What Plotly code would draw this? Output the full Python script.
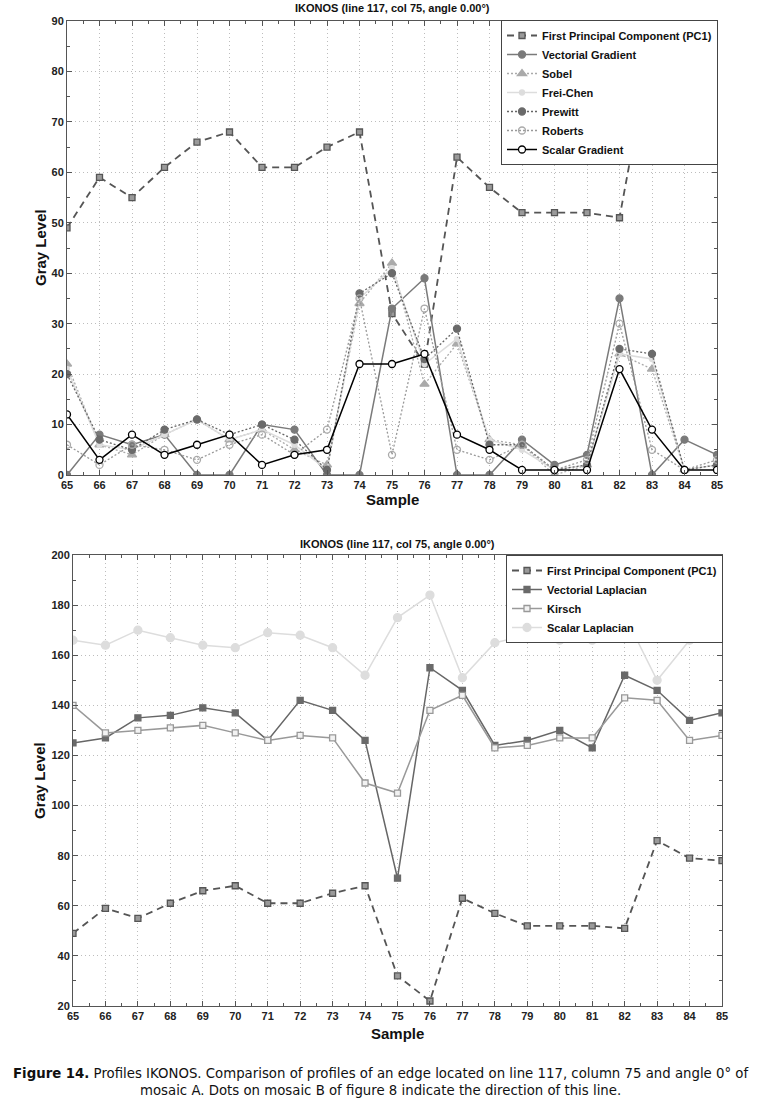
import plotly.graph_objects as go

samples = list(range(65, 86))

# Top chart: gradient profiles
pc1 = [49, 59, 55, 61, 66, 68, 61, 61, 65, 68, 32, 22, 63, 57, 52, 52, 52, 51, 86, 79, 78]
vect_grad = [0, 8, 6, 8, 0, 0, 10, 9, 0, 0, 33, 39, 0, 0, 7, 2, 4, 35, 0, 7, 4]
sobel = [22, 6, 4, 8, 11, 7, 9, 5, 2, 34, 42, 18, 26, 7, 6, 0, 2, 24, 21, 1, 2]
frei_chen = [21, 6, 5, 8, 11, 7, 9, 6, 1, 35, 41, 22, 27, 7, 5, 1, 2, 24, 23, 1, 2]
prewitt = [20, 7, 5, 9, 11, 8, 10, 7, 1, 36, 40, 23, 29, 6, 6, 1, 2, 25, 24, 1, 2]
roberts = [6, 2, 6, 5, 3, 6, 8, 4, 9, 35, 4, 33, 5, 3, 6, 1, 3, 30, 5, 1, 3]
scalar_grad = [12, 3, 8, 4, 6, 8, 2, 4, 5, 22, 22, 24, 8, 5, 1, 1, 1, 21, 9, 1, 1]

# Bottom chart: laplacian profiles
vect_lap = [125, 127, 135, 136, 139, 137, 126, 142, 138, 126, 71, 155, 146, 124, 126, 130, 123, 152, 146, 134, 137]
kirsch = [140, 129, 130, 131, 132, 129, 126, 128, 127, 109, 105, 138, 144, 123, 124, 127, 127, 143, 142, 126, 128]
scalar_lap = [166, 164, 170, 167, 164, 163, 169, 168, 163, 152, 175, 184, 151, 165, 168, 166, 166, 176, 150, 166, 167]

title_text = "IKONOS (line 117, col 75, angle 0.00°)"
x_title = "Sample"
y_title = "Gray Level"

DASH = "7px,5px"
DOT = "2px,2px"

fig = go.Figure()

def add(x, y, name, color, dash, symbol, msize, mcolor, mline, lw, xa, ya, legend):
    fig.add_trace(go.Scatter(
        x=x, y=y, name=name, mode="lines+markers",
        line=dict(color=color, dash=dash, width=lw),
        marker=dict(symbol=symbol, size=msize, color=mcolor,
                    line=dict(color=mline, width=1.3)),
        xaxis=xa, yaxis=ya, legend=legend))

# top
add(samples, pc1, "First Principal Component (PC1)", "#555555", DASH, "square", 6, "#9a9a9a", "#555555", 1.8, "x", "y", "legend")
add(samples, vect_grad, "Vectorial Gradient", "#7a7a7a", "solid", "circle", 7, "#7a7a7a", "#7a7a7a", 1.5, "x", "y", "legend")
add(samples, sobel, "Sobel", "#aaaaaa", DOT, "triangle-up", 8, "#aaaaaa", "#aaaaaa", 1.3, "x", "y", "legend")
add(samples, frei_chen, "Frei-Chen", "#dddddd", "solid", "circle", 5, "#dddddd", "#dddddd", 1.5, "x", "y", "legend")
add(samples, prewitt, "Prewitt", "#666666", DOT, "circle", 7, "#6a6a6a", "#6a6a6a", 1.3, "x", "y", "legend")
add(samples, roberts, "Roberts", "#999999", DOT, "circle-open", 7, "#aaaaaa", "#aaaaaa", 1.3, "x", "y", "legend")
add(samples, scalar_grad, "Scalar Gradient", "#000000", "solid", "circle", 7, "#ffffff", "#000000", 1.5, "x", "y", "legend")

# bottom
add(samples, pc1, "First Principal Component (PC1)", "#555555", DASH, "square", 6, "#9a9a9a", "#555555", 1.8, "x2", "y2", "legend2")
add(samples, vect_lap, "Vectorial Laplacian", "#666666", "solid", "square", 6, "#6a6a6a", "#6a6a6a", 1.5, "x2", "y2", "legend2")
add(samples, kirsch, "Kirsch", "#999999", "solid", "square", 6, "#f2f2f2", "#999999", 1.5, "x2", "y2", "legend2")
add(samples, scalar_lap, "Scalar Laplacian", "#dddddd", "solid", "circle", 8, "#dddddd", "#dddddd", 1.5, "x2", "y2", "legend2")

tickfont = dict(family="Liberation Sans", size=11, color="#222", weight="bold")
GRID = dict(showgrid=True, gridcolor="#bdbdbd", griddash="1px,3px", gridwidth=1)
common_x = dict(range=[65, 85], dtick=1, tick0=65, ticks="inside", ticklen=5, tickwidth=1,
                showline=True, linecolor="#555", linewidth=1, mirror="ticks",
                zeroline=False, tickfont=tickfont, automargin=False,
                minor=dict(ticks="inside", ticklen=3, dtick=0.5, showgrid=False, tickcolor="#555"),
                tickcolor="#555", **GRID)
common_y = dict(ticks="inside", ticklen=5, tickwidth=1,
                showline=True, linecolor="#555", linewidth=1, mirror="ticks",
                zeroline=False, tickfont=tickfont, tickcolor="#555", automargin=False, **GRID)

legend_font = dict(family="Liberation Sans", size=11, color="#111", weight="bold")

fig.update_layout(
    width=762, height=1100,
    margin=dict(l=0, r=0, t=0, b=0, autoexpand=False),
    paper_bgcolor="white", plot_bgcolor="white",
    xaxis=dict(common_x, domain=[67/762, 717/762], anchor="y"),
    yaxis=dict(common_y, domain=[1-475/1100, 1-21/1100], anchor="x", range=[0, 90], dtick=10,
               minor=dict(ticks="inside", ticklen=3, dtick=5, showgrid=False, tickcolor="#555")),
    xaxis2=dict(common_x, domain=[73/762, 722/762], anchor="y2"),
    yaxis2=dict(common_y, domain=[1-1006/1100, 1-555/1100], anchor="x2", range=[20, 200], dtick=20,
                minor=dict(ticks="inside", ticklen=3, dtick=10, showgrid=False, tickcolor="#555")),
    legend=dict(x=718/762, y=1-20/1100, xanchor="right", yanchor="top",
                bgcolor="white", bordercolor="#444", borderwidth=1,
                font=legend_font, tracegroupgap=0, itemwidth=30),
    legend2=dict(x=723/762, y=1-555/1100, xanchor="right", yanchor="top",
                 bgcolor="white", bordercolor="#444", borderwidth=1,
                 font=legend_font, tracegroupgap=0, itemwidth=30),
    showlegend=True,
)

def ann(text, x, y, size, angle=0, family="Liberation Sans", weight="bold"):
    fig.add_annotation(text=text, x=x/762, y=1-y/1100, xref="paper", yref="paper",
                       showarrow=False, textangle=angle,
                       font=dict(family=family, size=size, color="#111", weight=weight),
                       xanchor="center", yanchor="middle")

ann(title_text, 392, 8, 11)
ann(title_text, 397, 544, 11)
ann(x_title, 392, 499, 15)
ann(x_title, 397, 1033, 15)
ann(y_title, 40, 248, 15, angle=-90)
ann(y_title, 39, 781, 15, angle=-90)

caption = ("<b>Figure 14.</b> Profiles IKONOS. Comparison of profiles of an edge located on line 117, column 75 and angle 0° of"
           "<br>mosaic A. Dots on mosaic B of figure 8 indicate the direction of this line.")
fig.add_annotation(text=caption, x=0.5, y=1-1082/1100, xref="paper", yref="paper", showarrow=False,
                   font=dict(family="DejaVu Sans", size=13.3, color="#111"),
                   xanchor="center", yanchor="middle", align="center")

fig.write_html("out.html", config={"displayModeBar": False},
               post_script="document.body.style.margin='0';document.body.style.overflow='hidden';")
